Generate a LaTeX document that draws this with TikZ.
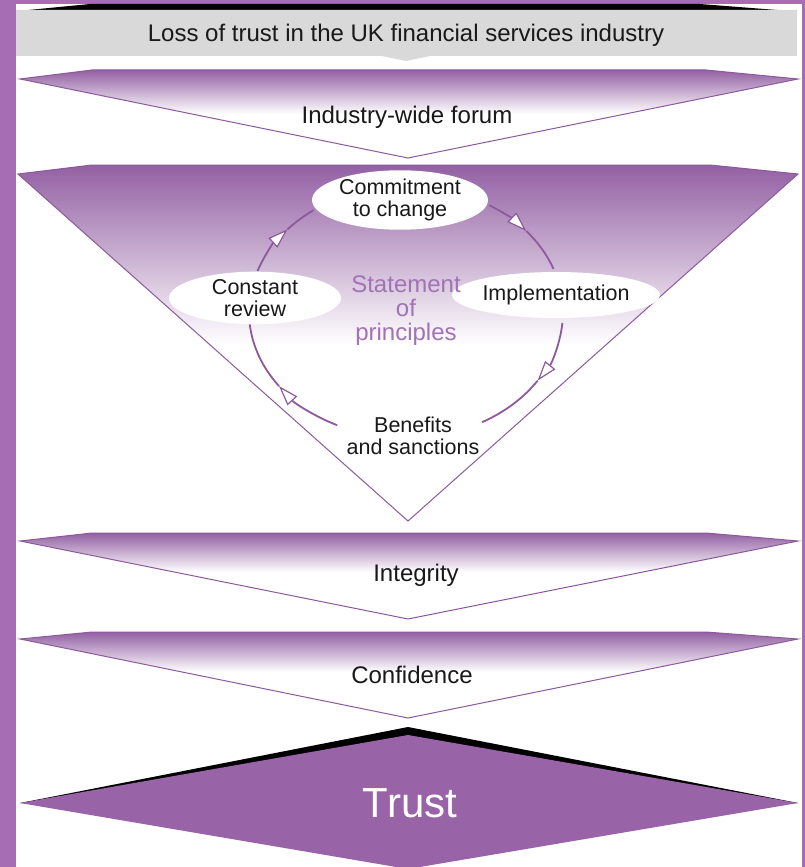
\documentclass[tikz,border=0pt]{standalone}
\usepackage{fontspec}
\setmainfont{Liberation Sans}
\usetikzlibrary{shapes.geometric,arrows.meta}
\definecolor{frame}{HTML}{A66CB4}
\definecolor{plum}{HTML}{9360A3}
\definecolor{plumline}{HTML}{8C5A9C}
\definecolor{trustfill}{HTML}{9963A8}
\definecolor{stmt}{HTML}{A173B4}
\definecolor{banner}{HTML}{D9D9D9}
\tikzstyle{every node}+=[inner sep=0pt,align=center,text=black!90,font=\fontsize{24}{26}\selectfont]
\tikzstyle{cyclenode}=[ellipse,fill=white,minimum width=172pt,minimum height=46pt,font=\fontsize{21.5}{22}\selectfont]
\tikzstyle{cyclearc}=[draw=plumline,line width=1.8pt]
\tikzstyle{arrowhead}=[-{Triangle[open,fill=white,length=20pt,width=13pt,line width=1.2pt]}]
\tikzstyle{edgeline}=[draw=plumline,line width=1pt]
% #1 shape path, #2 top y, #3 y where the fade ends
\newcommand{\fadeshape}[3]{
	\begin{scope}
		\clip #1;
		\fill[white] (0,#2) rectangle (805,870);
		\shade[top color=plum,bottom color=white] (0,#2) rectangle (805,#3);
	\end{scope}
	\path[edgeline] #1;
}
\newcommand{\drawchevron}[4]{
	\fadeshape{(20,#2) -- (92,#1) -- (706,#1) -- (798,#2) -- (408,#3) -- cycle}{#1}{#4}
}
\newcommand{\drawcyclearc}[3]{
	\draw[cyclearc,arrowhead] ([shift={(#1:157 and 126)}]cyc) arc[start angle=#1,end angle=#2,x radius=157,y radius=126];
	\draw[cyclearc] ([shift={(#2:157 and 126)}]cyc) arc[start angle=#2,end angle=#3,x radius=157,y radius=126];
}

\begin{document}
\begin{tikzpicture}[x=1pt,y=-1pt]
\useasboundingbox (0,0) rectangle (805,867);
\fill[frame] (0,0) rectangle (805,867);
\fill[white] (16,4) rectangle (802,867);

% top banner
\fill[black] (18,11) -- (90,4) -- (700,4) -- (790,11) -- cycle;
\fill[banner] (16,10) -- (797,10) -- (797,56) -- (430,56) -- (406,61) -- (382,56) -- (16,56) -- cycle;
\node (loss) at (406,35) {Loss of trust in the UK financial services industry};

% chevrons
\drawchevron{70}{79}{158}{114}
\node (forum) at (407,117) {Industry-wide forum};

\fadeshape{(18,174) -- (92,165) -- (710,165) -- (798,174) -- (408,521) -- cycle}{165}{345}

\drawchevron{533}{541}{619}{572}
\node (integ) at (416,575) {Integrity};
\drawchevron{632}{639}{718}{672}
\node (conf) at (412,675) {Confidence};

% trust
\fill[black] (20,803) -- (408,727) -- (798,803) -- cycle;
\fill[trustfill] (20,803) -- (408,735) -- (798,803) -- (408,869) -- cycle;
\node[text=white,font=\fontsize{42}{44}\selectfont] (trust) at (410,803) {Trust};

% cycle
\coordinate (cyc) at (406,312);
\drawcyclearc{-161}{-139}{-126}
\drawcyclearc{-58}{-40}{-20}
\drawcyclearc{5}{33}{61}
\drawcyclearc{116}{144}{175}

\node[cyclenode,minimum width=176pt] (commit) at (400,200) {Commitment\\to change};
\node[cyclenode] (impl) at (556,295) {Implementation};
\node[cyclenode] (review) at (255,298) {Constant\\review};
\node[font=\fontsize{21.5}{22}\selectfont] (benefit) at (413,436) {Benefits\\and sanctions};
\node[text=stmt,font=\fontsize{24}{24}\selectfont] (stmt) at (406,311) {Statement\\of\\principles};
\end{tikzpicture}
\end{document}
